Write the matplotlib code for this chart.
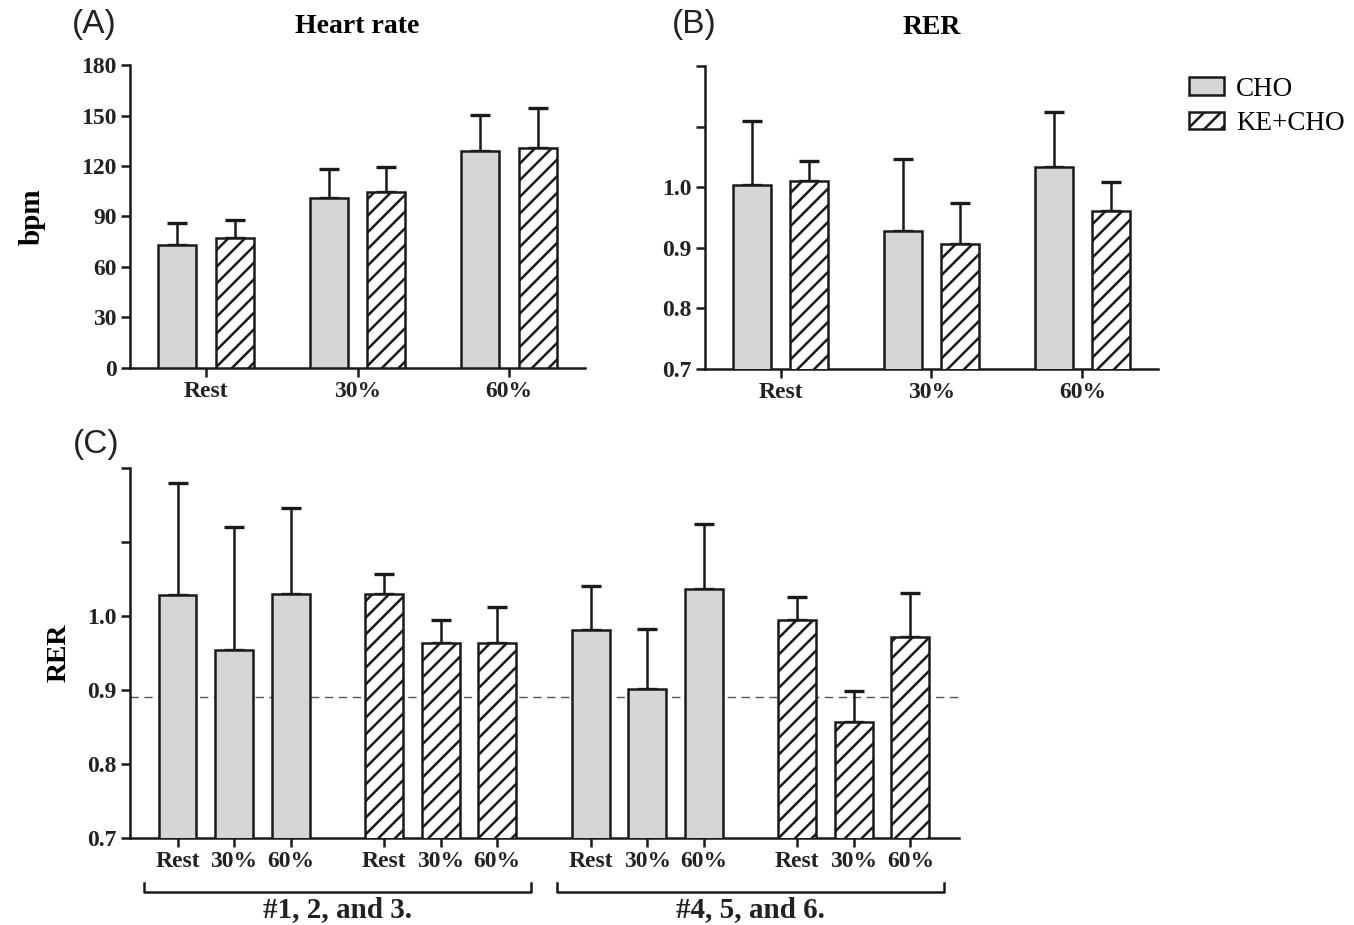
import numpy as np
import matplotlib
matplotlib.use("Agg")
import matplotlib.pyplot as plt
from matplotlib.transforms import blended_transform_factory

plt.rcParams['font.family'] = ['Liberation Serif', 'DejaVu Serif']
plt.rcParams['hatch.linewidth'] = 1.8
plt.rcParams['hatch.color'] = '#1a1a1a'

# data
conditions = ['Rest', '30%', '60%']

hr_cho = [73.0, 100.8, 128.7]
hr_cho_err = [12.9, 17.5, 21.9]
hr_ke = [77.2, 104.8, 130.9]
hr_ke_err = [10.7, 14.5, 23.8]

rer_cho = [1.003, 0.927, 1.033]
rer_cho_err = [0.107, 0.120, 0.091]
rer_ke = [1.011, 0.907, 0.960]
rer_ke_err = [0.032, 0.067, 0.048]

# panel C, subjects #1-3 and #4-6
c_cho_123 = [1.028, 0.954, 1.030]
c_cho_123_err = [0.152, 0.166, 0.116]
c_ke_123 = [1.030, 0.964, 0.964]
c_ke_123_err = [0.027, 0.031, 0.048]
c_cho_456 = [0.981, 0.901, 1.037]
c_cho_456_err = [0.060, 0.081, 0.087]
c_ke_456 = [0.994, 0.857, 0.971]
c_ke_456_err = [0.031, 0.041, 0.060]
rer_ref = 0.89
group_labels = ['#1, 2, and 3.', '#4, 5, and 6.']

gray = '#d5d6d8'
lw = 1.8

fig = plt.figure(figsize=(13.54, 9.25), dpi=100)
axA = fig.add_axes([0.0960, 0.6022, 0.3361, 0.3275])
axB = fig.add_axes([0.5207, 0.6011, 0.3345, 0.3275])
axC = fig.add_axes([0.0960, 0.0941, 0.6123, 0.4000])


def style(ax):
    for s in ['top', 'right']:
        ax.spines[s].set_visible(False)
    for s in ['left', 'bottom']:
        ax.spines[s].set_linewidth(lw)
        ax.spines[s].set_color('#1a1a1a')
    ax.tick_params(direction='out', length=6.5, width=lw, color='#1a1a1a', pad=3)
    for t in ax.get_xticklabels() + ax.get_yticklabels():
        t.set_fontsize(17)
        t.set_fontweight('bold')
        t.set_color('#222222')


def bars(ax, x, vals, errs, hatched, width):
    bc = ax.bar(x, vals, width, color='white' if hatched else gray,
                edgecolor='#1a1a1a', linewidth=lw, hatch='//' if hatched else None,
                zorder=3)
    ax.errorbar(x, vals, yerr=[np.zeros(len(vals)), errs], fmt='none',
                ecolor='#1a1a1a', elinewidth=1.8, capsize=7, capthick=2.4, zorder=2)
    return bc


xg = np.arange(3)
off = 0.19
w = 0.25

# (A) heart rate
b1 = bars(axA, xg - off, hr_cho, hr_cho_err, False, w)
b2 = bars(axA, xg + off, hr_ke, hr_ke_err, True, w)
axA.set_xlim(-0.5, 2.5)
axA.set_ylim(0, 180)
axA.set_yticks(np.arange(0, 181, 30))
axA.set_xticks(xg)
axA.set_xticklabels(conditions)
style(axA)
axA.set_title('Heart rate', fontsize=20, fontweight='bold', pad=23)
axA.set_ylabel('bpm', fontsize=21, fontweight='bold')
axA.yaxis.set_label_coords(-0.185, 0.5)

# (B) RER
bars(axB, xg - off, rer_cho, rer_cho_err, False, w)
bars(axB, xg + off, rer_ke, rer_ke_err, True, w)
axB.set_xlim(-0.5, 2.5)
axB.set_ylim(0.7, 1.2)
axB.set_yticks([0.7, 0.8, 0.9, 1.0, 1.1, 1.2])
axB.set_yticklabels(['0.7', '0.8', '0.9', '1.0', '', ''])
axB.set_xticks(xg)
axB.set_xticklabels(conditions)
style(axB)
axB.set_title('RER', fontsize=20, fontweight='bold', pad=23)

# (C) RER by subject group
gstart = np.arange(4) * 3.65
pos = [gs + xg for gs in gstart]
cw = 0.67
bars(axC, pos[0], c_cho_123, c_cho_123_err, False, cw)
bars(axC, pos[1], c_ke_123, c_ke_123_err, True, cw)
bars(axC, pos[2], c_cho_456, c_cho_456_err, False, cw)
bars(axC, pos[3], c_ke_456, c_ke_456_err, True, cw)
axC.axhline(rer_ref, color='#555555', lw=1.0, ls=(0, (6, 4)), zorder=1)
axC.set_xlim(-0.84, 13.81)
axC.set_ylim(0.7, 1.2)
axC.set_yticks([0.7, 0.8, 0.9, 1.0, 1.1, 1.2])
axC.set_yticklabels(['0.7', '0.8', '0.9', '1.0', '', ''])
axC.set_xticks(np.concatenate(pos))
axC.set_xticklabels(conditions * 4)
style(axC)
axC.set_ylabel('RER', fontsize=20, fontweight='bold')
axC.yaxis.set_label_coords(-0.07, 0.5)

tr = blended_transform_factory(axC.transData, axC.transAxes)
for i, lab in enumerate(group_labels):
    x0 = pos[2 * i][0] - 0.6
    x1 = pos[2 * i + 1][-1] + 0.6
    axC.plot([x0, x0, x1, x1], [-0.122, -0.146, -0.146, -0.122], color='#1a1a1a',
             lw=1.8, transform=tr, clip_on=False)
    axC.text((x0 + x1) / 2, -0.193, lab, transform=tr, ha='center', va='center',
             fontsize=21, fontweight='bold', color='#222222')

# panel letters
for x, y, s in [(0.053, 0.974, '(A)'), (0.496, 0.974, '(B)'), (0.054, 0.519, '(C)')]:
    fig.text(x, y, s, fontsize=24, family=['Liberation Sans', 'DejaVu Sans'],
             ha='left', va='center', color='#222222')

fig.legend([b1, b2], ['CHO', 'KE+CHO'], loc='upper left',
           bbox_to_anchor=(0.878, 0.917), frameon=False, fontsize=19.5,
           handlelength=1.3, handleheight=0.62, handletextpad=0.45,
           labelspacing=0.35, borderpad=0, borderaxespad=0)

fig.savefig('out.png', dpi=100)
